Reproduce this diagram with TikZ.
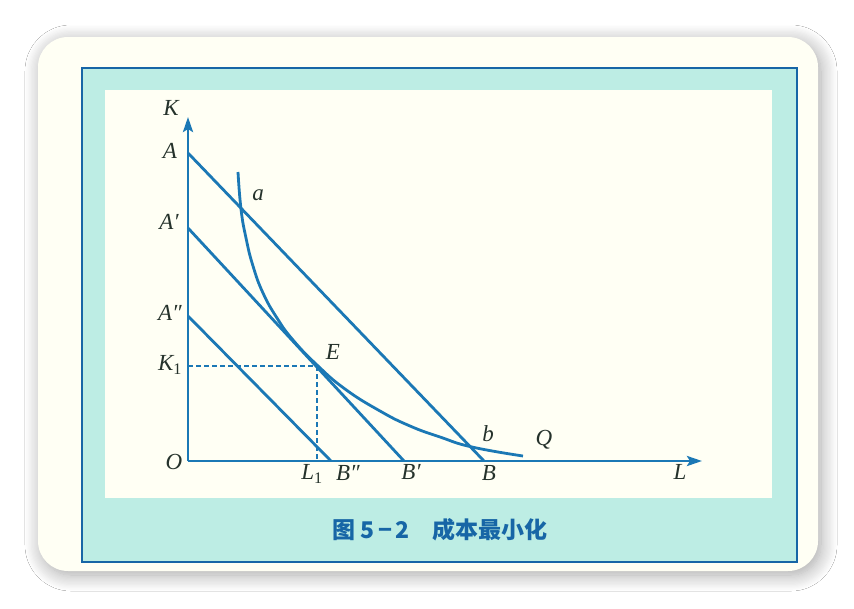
\documentclass[tikz,border=0pt]{standalone}
\usepackage{fontspec}
\setmainfont{Liberation Serif}
\newfontfamily\cjk{Noto Sans CJK SC}
\usepackage{xcolor}
\usepackage{tikz}
\usetikzlibrary{positioning,arrows.meta,shadows.blur}

\definecolor{lineblue}{HTML}{1B78B5}
\definecolor{frameblue}{HTML}{1766A6}
\definecolor{framecyan}{HTML}{BDEDE4}
\definecolor{paper}{HTML}{FFFFF4}
\definecolor{ink}{HTML}{25322B}

\begin{document}
\begin{tikzpicture}[
    x=1pt, y=-1pt,
    card/.style={fill=paper, rounded corners=30pt,
                 blur shadow={shadow blur radius=16pt, shadow blur steps=14,
                              shadow xshift=3pt, shadow yshift=-4pt,
                              shadow opacity=35}},
    budget/.style={lineblue, line width=2.8pt},
    axis/.style={lineblue, line width=2.8pt, -{Stealth[length=15pt,width=10pt,inset=3pt]}},
    guide/.style={lineblue, line width=1.5pt, dash pattern=on 5pt off 3pt},
    lbl/.style={inner sep=0pt, text=ink, font=\fontsize{23}{26}\selectfont\itshape}
]
    \useasboundingbox (0,0) rectangle (854,608);
    \fill[white] (0,0) rectangle (854,608);

    % card and frame
    \fill[card] (38,37) rectangle (818,571);
    \draw[frameblue, line width=2pt, fill=framecyan] (82,68) rectangle (797,562);
    \fill[paper] (105,90) rectangle (772,498);

    % points
    \coordinate (O) at (188,461);
    \coordinate (Ktip) at (188,117);
    \coordinate (Ltip) at (702,461);
    \coordinate (A) at (188,153);
    \coordinate (Ap) at (188,228);
    \coordinate (App) at (188,316);
    \coordinate (B) at (484,461);
    \coordinate (Bp) at (404,461);
    \coordinate (Bpp) at (331,461);
    \coordinate (E) at (317,366);
    \coordinate (K1) at (188,366);
    \coordinate (L1) at (317,461);

    % axes
    \draw[axis] (O) -- (Ktip);
    \draw[axis] (O) -- (Ltip);

    % isocost lines
    \draw[budget] (A) -- (B);
    \draw[budget] (Ap) -- (Bp);
    \draw[budget] (App) -- (Bpp);

    % isoquant Q
    \draw[budget] plot[smooth, tension=0.8] coordinates {
        (238,172) (241,209) (246,238) (253,266) (263,293) (277,318)
        (293,340) (317,365) (345,389) (380,411) (410,426) (440,437)
        (472,447) (523,456)};

    % optimum
    \draw[guide] (K1) -- (E);
    \draw[guide] (E) -- (L1);

    % labels
    \node[lbl] (lK) at (171,108) {K};
    \node[lbl] (lA) at (170,151) {A};
    \node[lbl] (lAp) at (169,222) {A′};
    \node[lbl] (lApp) at (170,313) {A″};
    \node[lbl] (lK1) at (170,365) {K\textsubscript{\upshape 1}};
    \node[lbl] (lO) at (174,462) {O};
    \node[lbl] (lL1) at (312,474) {L\textsubscript{\upshape 1}};
    \node[lbl] (lBpp) at (348,473) {B″};
    \node[lbl] (lBp) at (411,472) {B′};
    \node[lbl] (lB) at (489,473) {B};
    \node[lbl] (lL) at (680,472) {L};
    \node[lbl] (la) at (258,195) {a};
    \node[lbl] (lE) at (333,352) {E};
    \node[lbl] (lb) at (488,434) {b};
    \node[lbl] (lQ) at (544,440) {Q};

    % caption
    \node[text=frameblue, font=\cjk\bfseries\fontsize{23}{26}\selectfont] (cap)
        at (440,530) {图 5\,−\,2\quad 成本最小化};
\end{tikzpicture}
\end{document}
